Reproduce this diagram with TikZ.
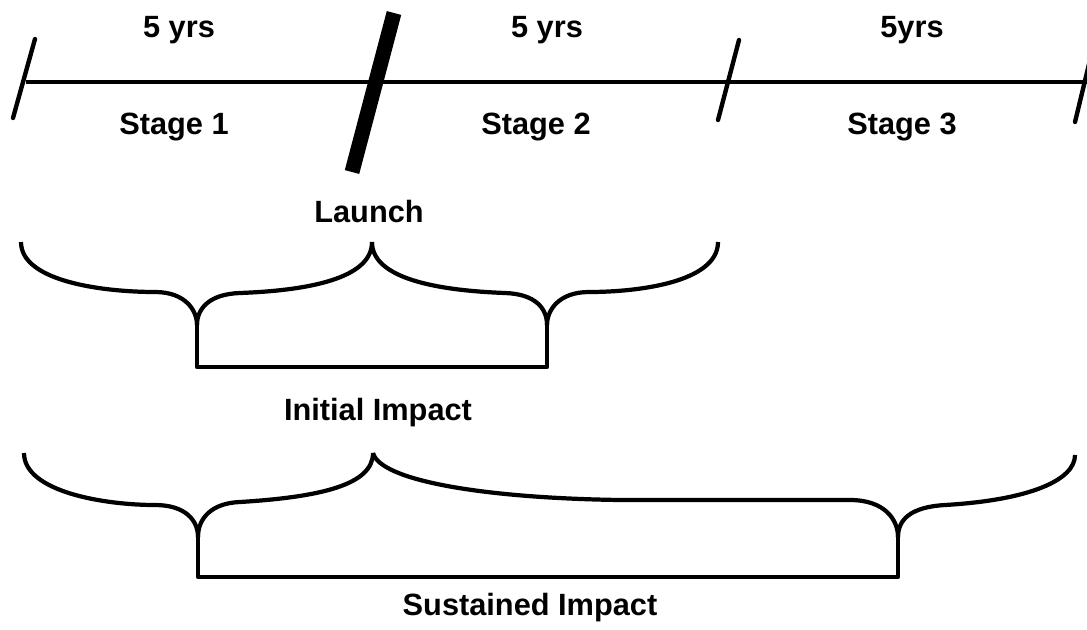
\documentclass[tikz,border=0pt]{standalone}
\usepackage{fontspec}
\setmainfont{Liberation Sans}

\tikzset{
  lbl/.style={anchor=base, inner sep=0pt, font=\fontsize{17.5}{20}\selectfont\bfseries},
  tickmark/.style={line width=2.5pt, line cap=round},
  brace/.style={line width=2.4pt, line join=round}
}

\begin{document}
\begin{tikzpicture}[x=0.02cm, y=-0.02cm]
\useasboundingbox (0,0) rectangle (1087,629);

% time line
\coordinate (t0) at (26,82);
\coordinate (t3) at (1090,82);
\draw[line width=2.4pt] (t0) -- (t3);
\draw[tickmark] (13,118) -- (35,39);
\draw[line width=8.5pt] (352,172) -- (394,13);
\draw[tickmark] (718,120) -- (739,40);
\draw[tickmark] (1075,122) -- (1090,60);

\node[lbl] (yrsA) at (179,37) {5 yrs};
\node[lbl] (yrsB) at (547,37) {5 yrs};
\node[lbl] (yrsC) at (912,37) {5yrs};
\node[lbl] (stageA) at (174,134) {Stage 1};
\node[lbl] (stageB) at (536,134) {Stage 2};
\node[lbl] (stageC) at (902,134) {Stage 3};
\node[lbl] (launch) at (369,222) {Launch};

% initial impact
\draw[brace] (21,242) .. controls (21,282) and (105,292) .. (155,292)
  .. controls (185,292) and (197,310) .. (197,325);
\draw[brace] (197,325) .. controls (197,308) and (210,294) .. (240,293)
  .. controls (320,290) and (372,275) .. (372,242);
\draw[brace] (372,242) .. controls (372,275) and (425,290) .. (505,293)
  .. controls (535,294) and (547,308) .. (547,325);
\draw[brace] (547,325) .. controls (547,310) and (559,292) .. (589,292)
  .. controls (639,292) and (718,282) .. (718,242);
\draw[brace] (197,325) -- (197,367) -- (547,367) -- (547,325);
\node[lbl] (initial) at (378,420) {Initial Impact};

% sustained impact
\draw[brace] (24,453) .. controls (24,492) and (105,505) .. (155,505)
  .. controls (185,505) and (198,520) .. (198,537);
\draw[brace] (198,537) .. controls (198,518) and (212,503) .. (240,502)
  .. controls (320,497) and (373,485) .. (373,453);
\draw[brace] (373,453) .. controls (380,480) and (480,498) .. (620,500)
  -- (850,500) .. controls (885,500) and (898,520) .. (898,537);
\draw[brace] (898,537) .. controls (898,520) and (910,507) .. (945,505)
  .. controls (1030,500) and (1075,480) .. (1075,455);
\draw[brace] (198,537) -- (198,577) -- (898,577) -- (898,537);
\node[lbl] (sustained) at (530,615) {Sustained Impact};
\end{tikzpicture}
\end{document}
